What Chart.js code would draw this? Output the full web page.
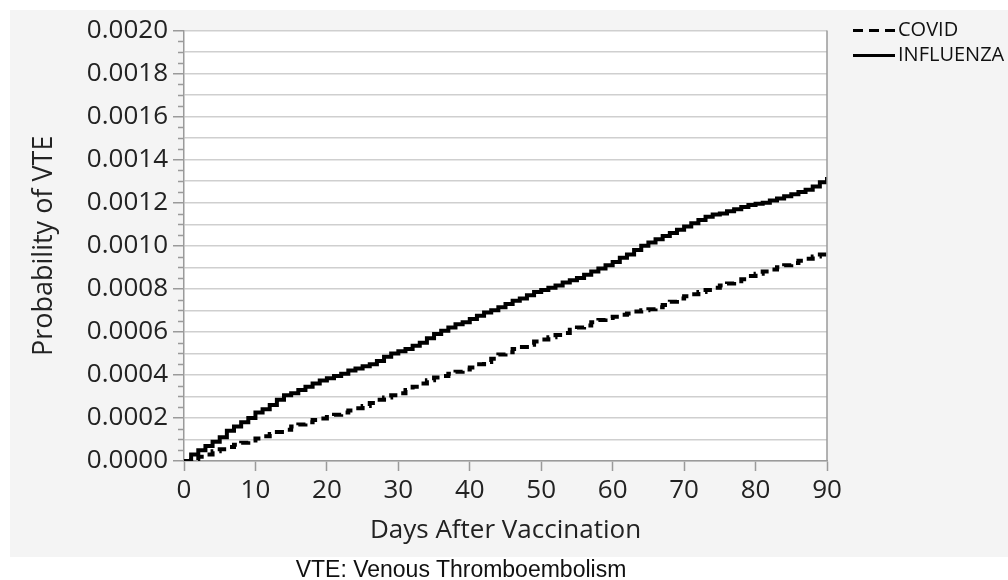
<!DOCTYPE html>
<html>
<head>
<meta charset="utf-8">
<script src="https://cdn.jsdelivr.net/npm/chart.js@4.4.1/dist/chart.umd.min.js"></script>
<style>
  body { margin: 0; background: #fff; width: 1008px; height: 580px; overflow: hidden; position: relative; }
  #panel { position: absolute; left: 10px; top: 10px; width: 998px; height: 547px; background: #f4f4f4; }
  #chartBox { position: absolute; left: 0; top: 0; width: 998px; height: 547px; }
  .legend { position: absolute; left: 843px; font-family: "Open Sans", sans-serif; font-size: 20px; color: #111; white-space: nowrap; }
  .legend span.swatch { display: inline-block; width: 42px; height: 3px; vertical-align: middle; margin-right: 3px; }
  .legend span.dashed { background: repeating-linear-gradient(90deg, #000 0 10px, transparent 10px 16px); }
  .legend span.solid { background: #000; }
  #caption { position: absolute; left: 0; width: 922px; top: 556px; text-align: center; font-family: "Liberation Sans", Arial, sans-serif; font-size: 23px; color: #111; }
</style>
</head>
<body>
<div id="panel">
  <div id="chartBox"><canvas id="vteChart"></canvas></div>
  <div class="legend" style="top: 5px;"><span class="swatch dashed"></span>COVID</div>
  <div class="legend" style="top: 30px;"><span class="swatch solid"></span>INFLUENZA</div>
</div>
<div id="caption">VTE: Venous Thromboembolism</div>
<script>
// days after vaccination (x categories)
const days = Array.from({ length: 91 }, (_, i) => i);

// cumulative probability of VTE, per 10,000 vaccinated
const covidPer10k = [
  0, 0.05, 0.2, 0.3, 0.45, 0.55, 0.65, 0.75, 0.85, 0.95,
  1.05, 1.15, 1.25, 1.35, 1.45, 1.6, 1.7, 1.8, 1.9, 1.98,
  2.05, 2.15, 2.25, 2.35, 2.45, 2.55, 2.7, 2.85, 2.95, 3.05,
  3.15, 3.3, 3.45, 3.6, 3.75, 3.88, 3.95, 4.05, 4.15, 4.25,
  4.35, 4.5, 4.6, 4.75, 4.95, 5.05, 5.2, 5.3, 5.4, 5.55,
  5.65, 5.75, 5.85, 5.95, 6.1, 6.2, 6.3, 6.45, 6.55, 6.65,
  6.7, 6.8, 6.85, 6.95, 7.0, 7.05, 7.15, 7.25, 7.4, 7.55,
  7.65, 7.75, 7.85, 7.95, 8.05, 8.15, 8.25, 8.35, 8.45, 8.6,
  8.7, 8.8, 8.9, 9.0, 9.1, 9.2, 9.3, 9.4, 9.5, 9.6,
  9.75
];
const influenzaPer10k = [
  0, 0.3, 0.5, 0.7, 0.9, 1.1, 1.4, 1.6, 1.8, 2.0,
  2.25, 2.4, 2.6, 2.85, 3.05, 3.15, 3.3, 3.45, 3.6, 3.74,
  3.85, 3.95, 4.05, 4.2, 4.3, 4.4, 4.5, 4.65, 4.85, 5.0,
  5.1, 5.2, 5.35, 5.5, 5.7, 5.9, 6.05, 6.2, 6.35, 6.45,
  6.6, 6.75, 6.9, 7.0, 7.15, 7.3, 7.45, 7.55, 7.7, 7.85,
  7.95, 8.05, 8.15, 8.3, 8.4, 8.5, 8.65, 8.8, 8.95, 9.1,
  9.25, 9.45, 9.6, 9.8, 10.0, 10.15, 10.3, 10.45, 10.6, 10.75,
  10.9, 11.05, 11.2, 11.35, 11.45, 11.5, 11.6, 11.7, 11.8, 11.9,
  11.95, 12.0, 12.1, 12.2, 12.3, 12.4, 12.5, 12.6, 12.75, 12.95,
  13.2
];

const yMin = 0, yMax = 0.002;

function toPoints(series) {
  return days.map((d, i) => ({ x: d, y: series[i] / 10000 }));
}

// ticks come every 0.00005: gridlines every 0.0001, labels every 0.0002
const onGrid = (v) => Math.round(v * 20000) % 2 === 0;
const labelled = (v) => Math.round(v * 20000) % 4 === 0;

const plotFrame = {
  id: "plotFrame",
  beforeDraw(chart) {
    const { ctx, chartArea: a } = chart;
    ctx.save();
    ctx.fillStyle = "#fff";
    ctx.fillRect(a.left, a.top, a.right - a.left, a.bottom - a.top);
    ctx.restore();
  },
  afterDraw(chart) {
    const { ctx, chartArea: a } = chart;
    const y = chart.scales.y;
    ctx.save();
    ctx.strokeStyle = "#9a9a9a";
    ctx.lineWidth = 1.5;
    y.ticks.forEach((t) => {
      if (labelled(t.value)) return;
      const py = Math.round(y.getPixelForValue(t.value)) + 0.5;
      ctx.beginPath();
      ctx.moveTo(a.left - 6, py);
      ctx.lineTo(a.left, py);
      ctx.stroke();
    });
    ctx.beginPath();
    ctx.moveTo(a.right, a.top);
    ctx.lineTo(a.right, a.bottom);
    ctx.stroke();
    ctx.restore();
  },
};

const tickFont = { family: "'Open Sans', sans-serif", size: 26 };

new Chart(document.getElementById("vteChart"), {
  type: "line",
  data: {
    datasets: [
      {
        label: "COVID",
        data: toPoints(covidPer10k),
        borderColor: "#000",
        borderWidth: 4,
        borderDash: [9, 6],
        stepped: true,
        pointRadius: 0,
        fill: false,
      },
      {
        label: "INFLUENZA",
        data: toPoints(influenzaPer10k),
        borderColor: "#000",
        borderWidth: 4,
        stepped: true,
        pointRadius: 0,
        fill: false,
      },
    ],
  },
  options: {
    responsive: true,
    maintainAspectRatio: false,
    animation: false,
    devicePixelRatio: 1,
    layout: { padding: { left: 0, top: 18, right: 181, bottom: 0 } },
    plugins: { legend: { display: false }, tooltip: { enabled: false } },
    scales: {
      x: {
        type: "linear",
        min: 0,
        max: 90,
        afterFit(scale) { scale.height = 96; },
        ticks: { stepSize: 10, color: "#222", font: tickFont, padding: 4, maxRotation: 0 },
        grid: { drawOnChartArea: false, tickLength: 10, tickColor: "#9a9a9a", tickWidth: 1.5 },
        border: { color: "#9a9a9a", width: 1.5 },
        title: {
          display: true,
          text: "Days After Vaccination",
          color: "#222",
          font: { family: "'Open Sans', sans-serif", size: 26 },
          padding: { top: 0, bottom: 11 },
        },
      },
      y: {
        min: yMin,
        max: yMax,
        afterFit(scale) { scale.width = 174; },
        ticks: {
          stepSize: 0.00005,
          color: "#222",
          font: tickFont,
          padding: 5,
          autoSkip: false,
          callback: (v) => (labelled(v) ? v.toFixed(4) : ""),
        },
        grid: {
          color: (c) => (c.tick && onGrid(c.tick.value) ? "#cfcfcf" : "rgba(0,0,0,0)"),
          lineWidth: 1.5,
          tickLength: 11,
          tickColor: (c) => (c.tick && labelled(c.tick.value) ? "#9a9a9a" : "rgba(0,0,0,0)"),
          tickWidth: 1.5,
        },
        border: { color: "#9a9a9a", width: 1.5 },
        title: {
          display: true,
          text: "Probability of VTE",
          color: "#222",
          font: { family: "'Open Sans', sans-serif", size: 27 },
          padding: { top: 18, bottom: 0 },
        },
      },
    },
  },
  plugins: [plotFrame],
});
</script>
</body>
</html>
